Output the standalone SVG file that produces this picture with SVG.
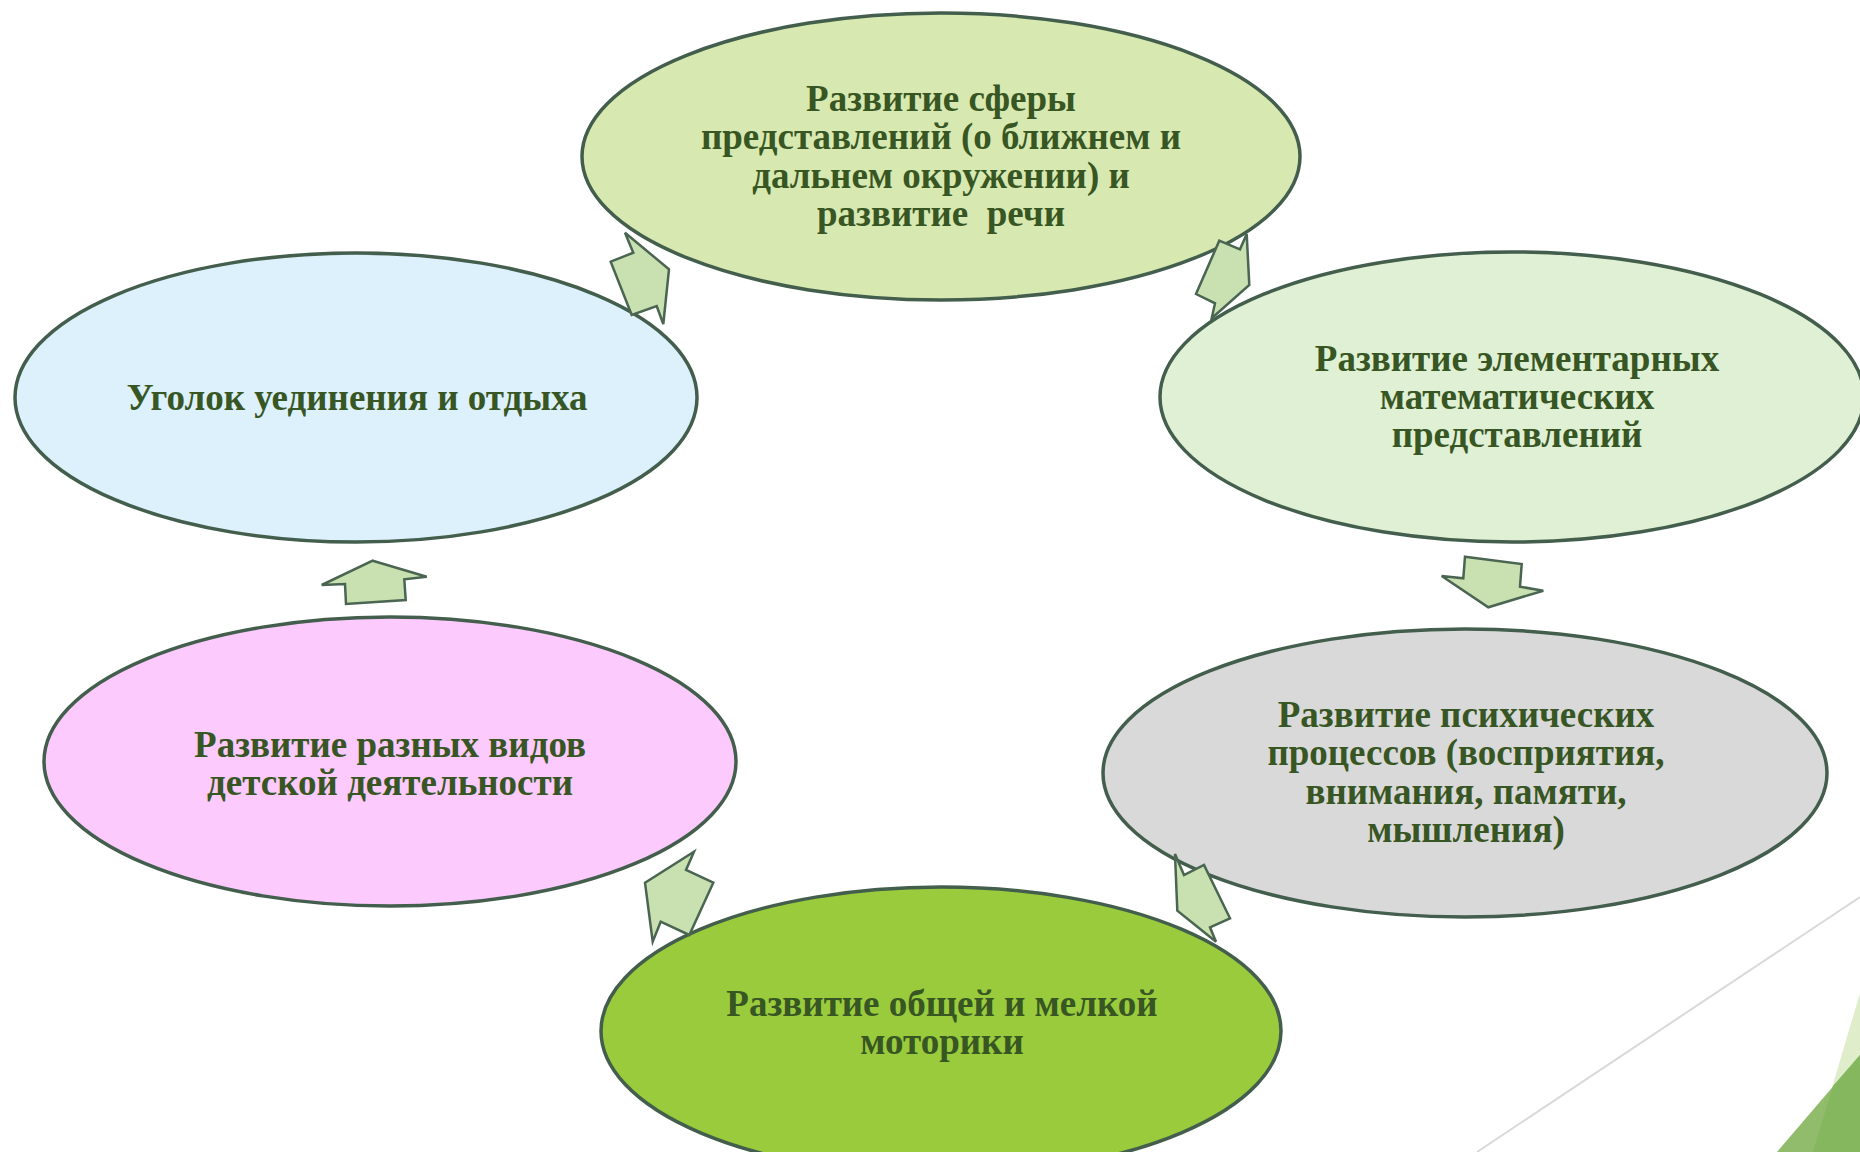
<svg xmlns="http://www.w3.org/2000/svg" width="1860" height="1152" viewBox="0 0 1860 1152">
<style>
.node ellipse{stroke:#435E4C;stroke-width:3.5}
.node text{font-family:"Liberation Serif","Times New Roman",serif;font-weight:bold;font-size:37px;fill:#375623;text-anchor:middle;white-space:pre}
.arrow{fill:#C9E0B0;stroke:#4A6552;stroke-width:2.5;stroke-linejoin:miter}
</style>
<rect width="1860" height="1152" fill="#FFFFFF"/>
<g id="decor">
<line x1="1860" y1="897" x2="1477" y2="1152" stroke="#D9D9D9" stroke-width="2"/>
<polygon points="1860,993 1813,1152 1860,1152" fill="#E0EDCB"/>
<polygon points="1860,1055 1777,1152 1860,1152" fill="#90BC6B"/>
<polygon points="1860,1055 1833,1086 1813,1152 1860,1152" fill="#85B75E"/>
</g>
<g id="node-top" class="node">
<ellipse cx="941" cy="156.5" rx="359" ry="143.5" fill="#D7E9B0"/>
<text x="941" y="110.5">Развитие сферы</text>
<text x="941" y="149">представлений (о ближнем и</text>
<text x="941" y="187.5">дальнем окружении) и</text>
<text x="941" y="226" xml:space="preserve">развитие  речи</text>
</g>
<g id="node-right-top" class="node">
<ellipse cx="1512" cy="397" rx="352" ry="145" fill="#E0F0D4"/>
<text x="1517" y="371">Развитие элементарных</text>
<text x="1517" y="409">математических</text>
<text x="1517" y="447">представлений</text>
</g>
<g id="node-right-bottom" class="node">
<ellipse cx="1465" cy="773" rx="362" ry="144" fill="#D9D9D9"/>
<text x="1466" y="727">Развитие психических</text>
<text x="1466" y="765">процессов (восприятия,</text>
<text x="1466" y="803.5">внимания, памяти,</text>
<text x="1466" y="842">мышления)</text>
</g>
<g id="node-bottom" class="node">
<ellipse cx="941" cy="1031" rx="340" ry="144" fill="#9ACB3C"/>
<text x="942" y="1016">Развитие общей и мелкой</text>
<text x="942" y="1054">моторики</text>
</g>
<g id="node-left-bottom" class="node">
<ellipse cx="390" cy="761.5" rx="346" ry="144.5" fill="#FCCAFC"/>
<text x="390" y="756.5">Развитие разных видов</text>
<text x="390" y="794.5">детской деятельности</text>
</g>
<g id="node-left-top" class="node">
<ellipse cx="356" cy="397.5" rx="341" ry="144.5" fill="#DCF1FB"/>
<text x="357" y="410">Уголок уединения и отдыха</text>
</g>
<g id="connectors">
<polygon class="arrow" points="1219.3,240.7 1240,249.3 1246.7,234 1249.3,285 1211.7,318.3 1215,303.3 1196,294"/>
<polygon class="arrow" points="1465,556.7 1521.7,564 1520,586.7 1543.3,590.7 1488.3,607.3 1441.7,576 1463.3,578.3"/>
<polygon class="arrow" points="1175,854 1184,875 1204,865 1230,918.3 1210,927.3 1216,941.7 1177.3,910.7"/>
<polygon class="arrow" points="645,882.7 694,851.7 686,870 713.3,882.7 689.3,935 660.7,921.7 652.7,941.7"/>
<polygon class="arrow" points="372.7,560.7 426.7,576.7 404.3,579.3 405.7,600 346,604 345,584 321.7,585"/>
<polygon class="arrow" points="625,232.7 633.3,252.7 610.7,261.7 631.7,315 656.7,306 663.3,324 669,269.3"/>
</g>
</svg>
